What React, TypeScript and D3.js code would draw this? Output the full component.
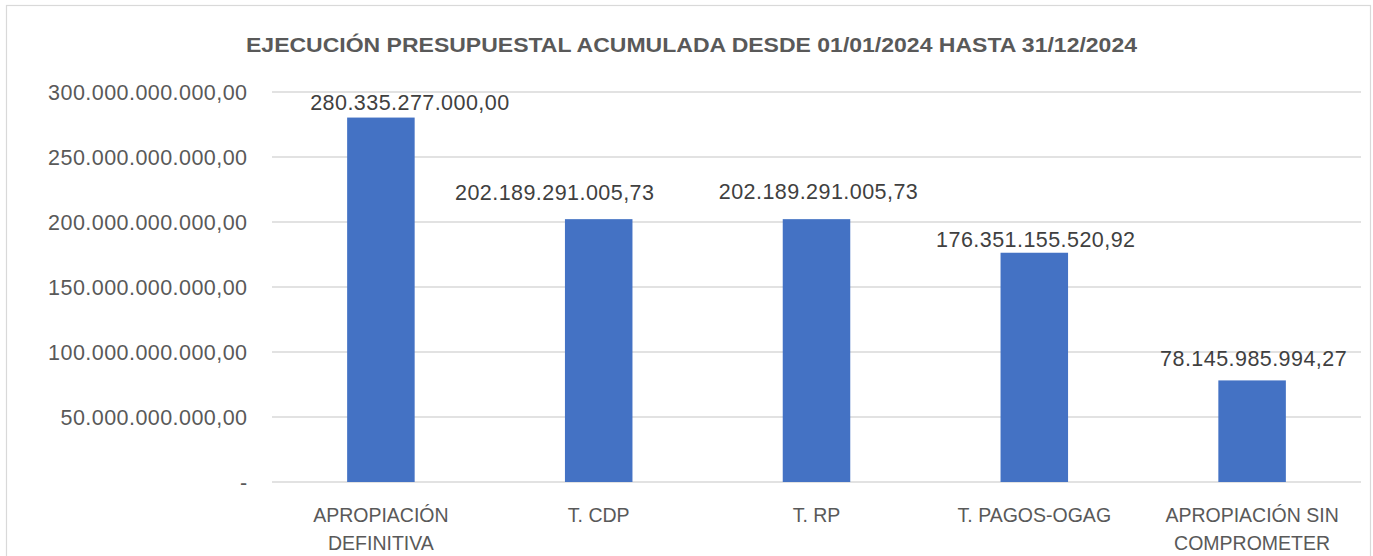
import React from "react";
import * as d3 from "d3";

const categories: string[][] = [
  ["APROPIACIÓN", "DEFINITIVA"],
  ["T. CDP"],
  ["T. RP"],
  ["T. PAGOS-OGAG"],
  ["APROPIACIÓN SIN", "COMPROMETER"],
];
const values: number[] = [
  280335277000.0,
  202189291005.73,
  202189291005.73,
  176351155520.92,
  78145985994.27,
];
const yTicks: number[] = [0, 50e9, 100e9, 150e9, 200e9, 250e9, 300e9];
const title = "EJECUCIÓN PRESUPUESTAL ACUMULADA DESDE 01/01/2024 HASTA 31/12/2024";

// manual data-label placement (as moved in the original), in px
const labelDx: number[] = [29, -44, 2, 1.5, 1.5];
const labelGap: number[] = [7.5, 19, 20, 6, 14];

const W = 1373;
const H = 556;
const plot = { left: 272, right: 1361, top: 92, bottom: 482 };

const locale = d3.formatLocale({
  decimal: ",",
  thousands: ".",
  grouping: [3],
  currency: ["", ""],
});
const fmt = locale.format(",.2f");

export default function App() {
  const x = d3
    .scaleBand<number>()
    .domain(values.map((_, i) => i))
    .range([plot.left, plot.right])
    .paddingInner(0.69)
    .paddingOuter(0.345);
  const y = d3.scaleLinear().domain([0, 300e9]).range([plot.bottom, plot.top]);
  const font = "'Liberation Sans', Arial, sans-serif";

  return (
    <svg
      width={W}
      height={H}
      style={{ position: "absolute", left: 0, top: 0, background: "#fff" }}
      fontFamily={font}
    >
      <rect x={6.5} y={5.5} width={1364} height={570} fill="#fff" stroke="#d9d9d9" strokeWidth={1.2} />
      <text
        x={691.5}
        y={51.5}
        textAnchor="middle"
        fontSize={20}
        fontWeight="bold"
        fill="#595959"
        textLength={891}
        lengthAdjust="spacingAndGlyphs"
      >
        {title}
      </text>
      {yTicks.map((t) => (
        <g key={t}>
          <line x1={plot.left} x2={plot.right} y1={y(t)} y2={y(t)} stroke="#d9d9d9" strokeWidth={1.5} />
          <text
            x={247.5}
            y={y(t) + 7.5}
            textAnchor="end"
            fontSize={21.5}
            letterSpacing={0.45}
            fill="#595959"
          >
            {t === 0 ? "-" : fmt(t)}
          </text>
        </g>
      ))}
      {values.map((v, i) => {
        const bx = x(i)!;
        const cx = bx + x.bandwidth() / 2;
        return (
          <g key={i}>
            <rect x={bx} y={y(v)} width={x.bandwidth()} height={y(0) - y(v)} fill="#4472C4" />
            <text
              x={cx + labelDx[i]}
              y={y(v) - labelGap[i]}
              textAnchor="middle"
              fontSize={21.5}
              letterSpacing={0.45}
              fill="#404040"
            >
              {fmt(v)}
            </text>
            {categories[i].map((line, j) => (
              <text key={j} x={cx} y={521.5 + j * 28.5} textAnchor="middle" fontSize={19.5} fill="#595959">
                {line}
              </text>
            ))}
          </g>
        );
      })}
    </svg>
  );
}
